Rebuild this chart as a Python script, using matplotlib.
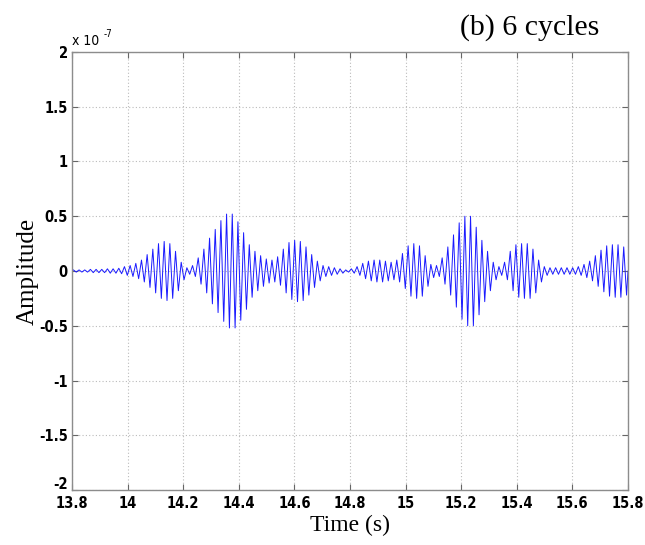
import numpy as np
import matplotlib
matplotlib.use("Agg")
import matplotlib.pyplot as plt
import matplotlib.transforms as mtransforms
from matplotlib.ticker import FuncFormatter
from matplotlib.font_manager import FontProperties

# ---- data ----
t_start = 13.8
t_end = 15.8
n_cycles = 98          # ~49 Hz carrier over 2 s
scale = 1e-7
# peak amplitude of each carrier cycle, in units of 1e-7
cycle_peaks = [
    0.01, 0.01, 0.01, 0.015, 0.015, 0.015, 0.02, 0.02, 0.025, 0.04,
    0.05, 0.07, 0.10, 0.15, 0.20, 0.25, 0.27, 0.25, 0.18, 0.08,
    0.03, 0.05, 0.12, 0.20, 0.30, 0.38, 0.46, 0.52, 0.52, 0.45,
    0.35, 0.24, 0.18, 0.14, 0.11, 0.10, 0.13, 0.20, 0.26, 0.28,
    0.27, 0.22, 0.15, 0.09, 0.05, 0.04, 0.03, 0.02, 0.01, 0.02,
    0.04, 0.07, 0.09, 0.10, 0.10, 0.09, 0.08, 0.10, 0.16, 0.23,
    0.25, 0.23, 0.14, 0.06, 0.05, 0.12, 0.22, 0.33, 0.44, 0.50,
    0.50, 0.40, 0.28, 0.18, 0.08, 0.04, 0.08, 0.18, 0.24, 0.25,
    0.25, 0.20, 0.10, 0.04, 0.03, 0.03, 0.03, 0.03, 0.03, 0.04,
    0.06, 0.09, 0.14, 0.19, 0.23, 0.24, 0.24, 0.22,
]
x_ticks = [13.8, 14, 14.2, 14.4, 14.6, 14.8, 15, 15.2, 15.4, 15.6, 15.8]
y_ticks = [-2, -1.5, -1, -0.5, 0, 0.5, 1, 1.5, 2]
title_text = "(b) 6 cycles"
xlabel_text = "Time (s)"
ylabel_text = "Amplitude"

# ---- build the polyline: +peak / -peak each half cycle ----
period = (t_end - t_start) / n_cycles
peaks = np.asarray(cycle_peaks)
k = np.arange(len(peaks))
tt = np.empty(2 * len(peaks) + 2)
yy = np.empty(2 * len(peaks) + 2)
tt[0], yy[0] = t_start, 0.0
tt[1:-1:2] = t_start + (k + 0.25) * period
tt[2:-1:2] = t_start + (k + 0.75) * period
yy[1:-1:2] = peaks
yy[2:-1:2] = -peaks
tt[-1], yy[-1] = t_end, 0.0
yy = yy * scale

plt.rcParams['axes.unicode_minus'] = False
tick_fp = FontProperties(family=['DejaVu Sans'], stretch='condensed',
                         weight='bold', size=10.5)
small_fp = FontProperties(family=['DejaVu Sans'], stretch='condensed', size=10)
exp_fp = FontProperties(family=['DejaVu Sans'], stretch='condensed', size=7)
serif = ['Liberation Serif', 'DejaVu Serif']

fig = plt.figure(figsize=(6.45, 5.45), dpi=100)
ax = fig.add_axes([0.1116, 0.1009, 0.862, 0.8037])

ax.plot(tt, yy, color='#1a1aff', lw=0.7)

ax.set_xlim(t_start, t_end)
ax.set_ylim(-2 * scale, 2 * scale)
ax.set_xticks(x_ticks)
ax.set_yticks([v * scale for v in y_ticks])
ax.xaxis.set_major_formatter(FuncFormatter(lambda v, p: f"{v:g}"))
ax.yaxis.set_major_formatter(FuncFormatter(lambda v, p: f"{round(v / scale, 2):g}"))
for lab in ax.get_xticklabels() + ax.get_yticklabels():
    lab.set_fontproperties(tick_fp)

ax.tick_params(direction='in', top=True, right=True, length=4, width=0.8,
               color='#666666', pad=3)
ax.tick_params(axis='x', pad=4)
for s in ax.spines.values():
    s.set_color('#8c8c8c')
    s.set_linewidth(1.0)
ax.grid(True, linestyle=(0, (1, 2)), color='#bbbbbb', linewidth=0.8)

# lift the lowest y tick label slightly, as in the reference
lowest = ax.yaxis.get_major_ticks()[0].label1
lowest.set_transform(lowest.get_transform() +
                     mtransforms.ScaledTranslation(0, 5 / 72, fig.dpi_scale_trans))

ax.text(0.0, 1.008, "x 10", transform=ax.transAxes, ha='left', va='bottom',
        fontproperties=small_fp)
ax.text(0.056, 1.03, "-7", transform=ax.transAxes, ha='left', va='bottom',
        fontproperties=exp_fp)

ax.set_xlabel(xlabel_text, family=serif, fontsize=17, labelpad=3)
ax.set_ylabel(ylabel_text, family=serif, fontsize=18, labelpad=0)
fig.text(0.93, 0.949, title_text, family=serif, fontsize=21.5, ha='right', va='center')

fig.savefig("out.png", dpi=100)
